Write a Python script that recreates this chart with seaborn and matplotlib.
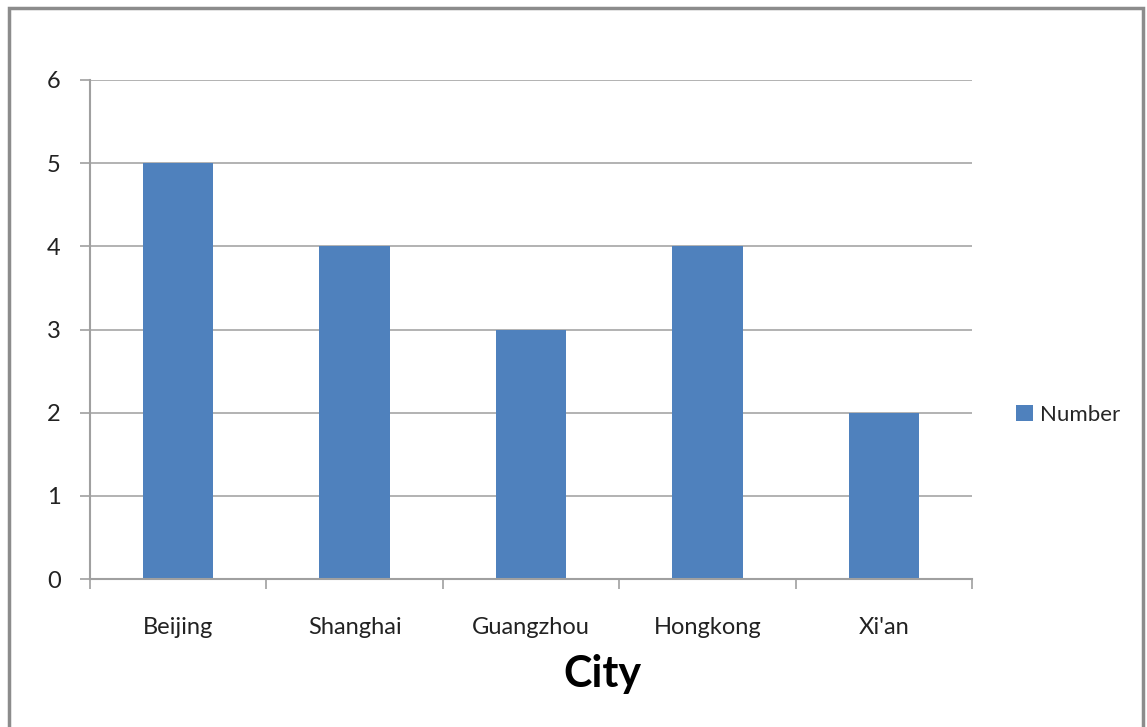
import matplotlib
matplotlib.use("Agg")
import matplotlib.pyplot as plt
import seaborn as sns
import pandas as pd
from matplotlib.patches import Rectangle

cities = ["Beijing", "Shanghai", "Guangzhou", "Hongkong", "Xi'an"]
number = [5, 4, 3, 4, 2]
series_name = "Number"

df = pd.DataFrame({"City": cities, series_name: number, "Series": series_name})

sns.set_style("white")
plt.rcParams['font.family'] = ['Lato', 'DejaVu Sans']

fig = plt.figure(figsize=(11.47, 7.27), dpi=100)
ax = fig.add_axes([90/1147, 1 - 579/727, 882/1147, 499/727])

sns.barplot(data=df, x="City", y=series_name, hue="Series", palette=["#4f81bd"],
            width=0.4, ax=ax, saturation=1, legend=True, linewidth=0)

ax.set_ylim(0, 6)
ax.set_xlim(-0.5, len(cities) - 0.5)
ax.set_yticks(range(0, 7))
ax.yaxis.grid(True, color="#a6a6a6", linewidth=1.2)
ax.set_axisbelow(True)
for s in ["top", "right"]:
    ax.spines[s].set_visible(False)
for s in ["left", "bottom"]:
    ax.spines[s].set_color("#a0a0a0")
    ax.spines[s].set_linewidth(1.5)

ax.tick_params(axis="y", length=7, width=1.2, color="#a0a0a0", labelsize=17,
               pad=14, labelcolor="#222222", left=True)
ax.tick_params(axis="x", which="major", length=0, labelsize=17, pad=27,
               labelcolor="#222222")
ax.set_xticks([i + 0.5 for i in range(-1, len(cities))], minor=True)
ax.tick_params(axis="x", which="minor", length=7, width=1.2, color="#a0a0a0",
               bottom=True)
ax.set_ylabel("")
ax.set_xlabel("City", fontsize=31, fontweight="bold", color="black")
# Excel put the axis title a bit right of centre
ax.xaxis.set_label_coords(602/1147, 1 - 654/727, transform=fig.transFigure)

leg = ax.legend(loc="center left", frameon=False,
                fontsize=16, handlelength=0.75, handleheight=0.75, handletextpad=0.35)
leg.set_bbox_to_anchor((996/1147, 1 - 415/727), transform=fig.transFigure)

fig.patches.append(Rectangle((9/1147, -0.05), 1134/1147, 1.05 - 8/727,
                             transform=fig.transFigure, fill=False,
                             edgecolor="#8c8c8c", linewidth=2.5))

fig.savefig("out.png", dpi=100)
